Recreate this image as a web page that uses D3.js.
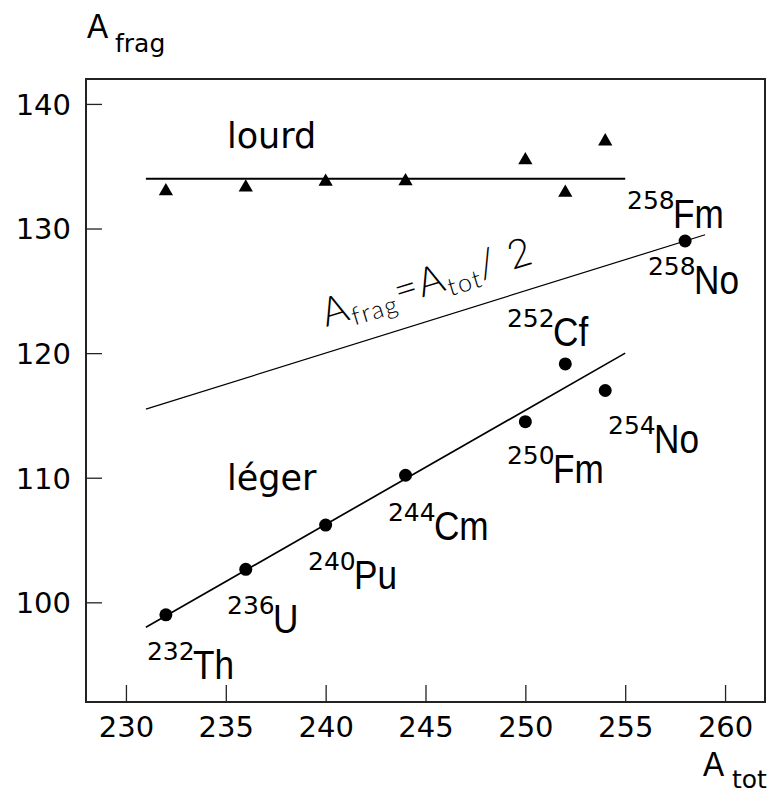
<!DOCTYPE html>
<html>
<head>
<meta charset="utf-8">
<script src="https://cdn.jsdelivr.net/npm/d3@7/dist/d3.min.js"></script>
<style>
  html, body { margin: 0; padding: 0; background: #fff; }
  svg { display: block; }
</style>
</head>
<body>
<svg id="chart" width="774" height="794"></svg>
<script>
// ---- data ----
const xTicks = [230, 235, 240, 245, 250, 255, 260];
const yTicks = [100, 110, 120, 130, 140];

// light fragment (circles)
const aTotLight = [232, 236, 240, 244, 250, 252, 254, 258];
const aFragLight = [99.0, 102.65, 106.2, 110.2, 114.5, 119.13, 117.0, 129.0];

// heavy fragment (triangles)
const aTotHeavy = [232, 236, 240, 244, 250, 252, 254];
const aFragHeavy = [133.0, 133.3, 133.76, 133.8, 135.48, 132.87, 137.0];

// fitted / reference lines
const heavyFitX = [231, 255];
const heavyFitY = [134, 134];
const lightFitX = [231, 255];
const lightFitY = [98, 120];
const halfX = [231, 259];
const halfY = [115.5, 129.5];

// isotope labels
const labelMass = ["232", "236", "240", "244", "250", "252", "254", "258", "258"];
const labelSym  = ["Th", "U", "Pu", "Cm", "Fm", "Cf", "No", "Fm", "No"];
const labelX = [231.05, 235.06, 239.12, 243.12, 249.08, 249.08, 254.14, 255.09, 256.14];
const labelY = [93.85, 97.54, 101.05, 105.0, 109.55, 120.57, 112.0, 130.07, 124.74];

// ---- layout ----
const svg = d3.select("#chart");
const L = 86, R = 765, T = 79, B = 702;
const x = d3.scaleLinear().domain([228, 262]).range([L, R]);
const y = d3.scaleLinear().domain([92, 142]).range([B, T]);

const tickFont = "'DejaVu Sans', Verdana, sans-serif";
const condFont = "'Liberation Sans', Arial, sans-serif";
const COND = 0.88;

function condText(g, px, py, txt, size) {
  g.append("text")
    .attr("transform", `translate(${px},${py}) scale(${COND},1)`)
    .attr("font-family", condFont)
    .attr("font-size", size)
    .attr("fill", "#000")
    .text(txt);
}

// axes
const xAxis = d3.axisBottom(x).tickValues(xTicks).tickSize(-17).tickPadding(14).tickFormat(d3.format("d"));
const yAxis = d3.axisLeft(y).tickValues(yTicks).tickSize(-16).tickPadding(15).tickFormat(d3.format("d"));

const gx = svg.append("g").attr("transform", `translate(0,${B})`).call(xAxis);
const gy = svg.append("g").attr("transform", `translate(${L},0)`).call(yAxis);
[gx, gy].forEach(g => {
  g.select(".domain").remove();
  g.selectAll(".tick line").attr("stroke", "#222").attr("stroke-width", 1.3);
  g.selectAll(".tick text")
    .attr("font-family", tickFont)
    .attr("font-size", 29)
    .attr("fill", "#000");
});
gy.selectAll(".tick text").attr("dy", "0.36em");

// frame
svg.append("rect")
  .attr("x", L).attr("y", T).attr("width", R - L).attr("height", B - T)
  .attr("fill", "none").attr("stroke", "#222").attr("stroke-width", 2);

// lines
const line = d3.line().x(d => x(d[0])).y(d => y(d[1]));
svg.append("path").attr("d", line(d3.zip(heavyFitX, heavyFitY)))
  .attr("fill", "none").attr("stroke", "#000").attr("stroke-width", 2);
svg.append("path").attr("d", line(d3.zip(lightFitX, lightFitY)))
  .attr("fill", "none").attr("stroke", "#000").attr("stroke-width", 1.7);
svg.append("path").attr("d", line(d3.zip(halfX, halfY)))
  .attr("fill", "none").attr("stroke", "#000").attr("stroke-width", 1.2);

// heavy triangles
svg.append("g").selectAll("path")
  .data(d3.zip(aTotHeavy, aFragHeavy))
  .join("path")
  .attr("transform", d => `translate(${x(d[0])},${y(d[1])})`)
  .attr("d", d3.symbol().type(d3.symbolTriangle).size(88))
  .attr("fill", "#000");

// light circles
svg.append("g").selectAll("circle")
  .data(d3.zip(aTotLight, aFragLight))
  .join("circle")
  .attr("cx", d => x(d[0])).attr("cy", d => y(d[1]))
  .attr("r", 6.5).attr("fill", "#000");

// isotope labels
const lg = svg.append("g");
labelMass.forEach((m, i) => {
  const px = x(labelX[i]), py = y(labelY[i]);
  lg.append("text")
    .attr("x", px).attr("y", py - 19)
    .attr("font-family", tickFont).attr("font-size", 25).attr("fill", "#000")
    .text(m);
  condText(lg, px + 46, py, labelSym[i], 40);
});

// group labels
svg.append("text").attr("x", x(235.06)).attr("y", y(136.46))
  .attr("font-family", tickFont).attr("font-size", 35).attr("fill", "#000").text("lourd");
svg.append("text").attr("x", x(235.06)).attr("y", y(109.0))
  .attr("font-family", tickFont).attr("font-size", 35).attr("fill", "#000").text("léger");

// formula along the A/2 line
const fx = x(240.02), fy = y(122.1);
const ft = svg.append("text")
  .attr("transform", `translate(${fx},${fy}) rotate(-17)`)
  .attr("font-family", "Lato, 'Open Sans', sans-serif")
  .attr("font-weight", 300)
  .attr("font-size", 40)
  .attr("letter-spacing", 1.5)
  .attr("fill", "#000");
ft.append("tspan").text("A");
ft.append("tspan").attr("font-size", 25).attr("dy", 7).text("frag");
ft.append("tspan").attr("dy", -7).text("=");
ft.append("tspan").text("A");
ft.append("tspan").attr("font-size", 25).attr("dy", 7).text("tot");
ft.append("tspan").attr("dy", -7).text("/ 2");

// axis titles
condText(svg, 87, 38, "A", 36);
svg.append("text").attr("x", 115).attr("y", 52)
  .attr("font-family", tickFont).attr("font-size", 25).attr("fill", "#000").text("frag");
condText(svg, 703, 776, "A", 36);
svg.append("text").attr("x", 732).attr("y", 788)
  .attr("font-family", tickFont).attr("font-size", 25).attr("fill", "#000").text("tot");
</script>
</body>
</html>
